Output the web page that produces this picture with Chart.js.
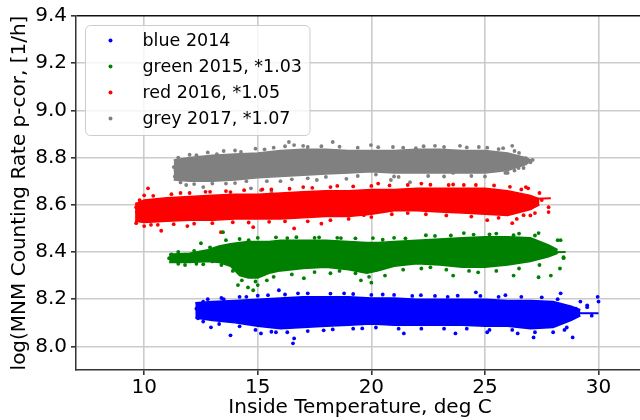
<!DOCTYPE html>
<html><head><meta charset="utf-8">
<script src="https://cdn.jsdelivr.net/npm/chart.js@4.4.1/dist/chart.umd.min.js"></script>
<style>
html,body{margin:0;padding:0;overflow:hidden;background:#fff;width:640px;height:420px}
#wrap{position:absolute;left:0;top:0;width:648px;height:420px}
</style>
</head><body><div id="wrap"><canvas id="c" width="648" height="420" style="width:648px;height:420px"></canvas></div>
<script>
// ---------- data ----------
const xTicks = [10, 15, 20, 25, 30];
const yTicks = [8.0, 8.2, 8.4, 8.6, 8.8, 9.0, 9.2, 9.4];
const xRange = [7, 32];
const yRange = [7.9, 9.4];
const seriesLabels = ["blue 2014", "green 2015, *1.03", "red 2016, *1.05", "grey 2017, *1.07"];
const seriesColors = ["#0000ff", "#008000", "#ff0000", "#808080"];

// dense core of each cloud: temperature, lower and upper edge
const blueX    = [12.25, 13, 14, 15, 16, 17, 18, 19, 20, 21, 22, 23, 24, 25, 26, 27, 28, 28.8, 29.2];
const blueLow  = [8.12, 8.11, 8.10, 8.085, 8.075, 8.08, 8.085, 8.09, 8.095, 8.09, 8.09, 8.09, 8.09, 8.085, 8.085, 8.075, 8.08, 8.11, 8.13];
const blueHigh = [8.185, 8.19, 8.195, 8.20, 8.205, 8.21, 8.21, 8.21, 8.205, 8.205, 8.20, 8.20, 8.20, 8.20, 8.195, 8.195, 8.19, 8.17, 8.155];

const greenX    = [11.1, 12, 12.8, 13.3, 13.8, 14.2, 14.6, 15, 15.5, 16, 17, 18, 19, 19.8, 20.3, 21, 22, 23, 24, 25, 26, 27, 27.8, 28.2];
const greenLow  = [8.355, 8.355, 8.36, 8.355, 8.34, 8.30, 8.29, 8.29, 8.31, 8.32, 8.33, 8.335, 8.325, 8.31, 8.32, 8.34, 8.35, 8.345, 8.335, 8.335, 8.345, 8.36, 8.38, 8.395];
const greenHigh = [8.39, 8.395, 8.41, 8.425, 8.435, 8.44, 8.445, 8.445, 8.445, 8.45, 8.45, 8.45, 8.445, 8.44, 8.44, 8.445, 8.45, 8.455, 8.46, 8.465, 8.465, 8.46, 8.43, 8.41];

const redX    = [9.6, 10, 11, 12, 13, 14, 15, 16, 17, 18, 19, 20, 21, 22, 23, 24, 25, 26, 27, 27.4];
const redLow  = [8.53, 8.525, 8.53, 8.535, 8.535, 8.54, 8.54, 8.54, 8.545, 8.55, 8.55, 8.56, 8.575, 8.575, 8.57, 8.565, 8.56, 8.555, 8.58, 8.60];
const redHigh = [8.605, 8.62, 8.63, 8.635, 8.64, 8.645, 8.645, 8.65, 8.655, 8.66, 8.66, 8.665, 8.665, 8.67, 8.67, 8.67, 8.67, 8.66, 8.64, 8.625];

const greyX    = [11.3, 12, 13, 14, 15, 16, 17, 18, 19, 20, 21, 22, 23, 24, 25, 26, 26.8, 27.0];
const greyLow  = [8.705, 8.70, 8.70, 8.705, 8.715, 8.72, 8.725, 8.73, 8.735, 8.74, 8.735, 8.735, 8.735, 8.735, 8.735, 8.745, 8.77, 8.785];
const greyHigh = [8.79, 8.80, 8.81, 8.815, 8.82, 8.83, 8.835, 8.835, 8.83, 8.83, 8.83, 8.835, 8.835, 8.83, 8.83, 8.82, 8.80, 8.79];

// scattered points around each core (outliers and fringe)
const blueDots = [[12.3,8.16],[12.37,8.119],[12.6,8.19],[12.94,8.081],[13.5,8.20],[13.8,8.047],[14.5,8.21],[15.14,8.055],[15.45,8.217],[15.8,8.06],[15.93,8.238],[16.55,8.013],[16.6,8.034],[16.77,8.225],[17.9,8.068],[18.8,8.225],[19.6,8.076],[20.5,8.22],[21.43,8.055],[22.18,8.217],[23.36,8.21],[23.7,8.055],[24.6,8.229],[25.1,8.06],[25.9,8.217],[26.44,8.055],[27.14,8.038],[28.33,8.225],[28.77,8.123],[28.86,8.038],[29.0,8.16],[29.2,8.19],[29.5,8.174],[29.5,8.166],[29.7,8.13],[29.96,8.21],[30.0,8.19],[28.5,8.07],
  [12.8,8.20],[13.4,8.205],[14.2,8.21],[15.0,8.215],[16.2,8.22],[17.2,8.225],[18.2,8.224],[19.2,8.222],[20.0,8.218],[21.0,8.218],[21.8,8.214],[22.8,8.214],[23.8,8.215],[24.8,8.214],[25.6,8.21],[26.6,8.21],[27.5,8.208],[28.2,8.2],
  [12.6,8.105],[13.3,8.095],[14.2,8.085],[14.9,8.07],[15.6,8.062],[16.3,8.06],[17.2,8.065],[18.3,8.072],[19.2,8.075],[20.2,8.08],[21.2,8.075],[22.2,8.075],[23.2,8.075],[24.2,8.075],[25.2,8.07],[26.2,8.07],[27.2,8.06],[28.0,8.06],[28.6,8.08]];
const greenDots = [[11.1,8.374],[11.2,8.39],[11.5,8.35],[12.5,8.437],[12.3,8.35],[13.47,8.484],[13.0,8.36],[14.13,8.26],[14.57,8.25],[14.6,8.45],[14.8,8.238],[15.0,8.26],[15.4,8.28],[16.3,8.459],[17.03,8.289],[17.5,8.46],[18.66,8.459],[18.2,8.31],[19.54,8.28],[20.0,8.27],[20.07,8.459],[21.0,8.46],[22.2,8.33],[22.4,8.471],[23.6,8.30],[24.07,8.48],[24.7,8.314],[25.2,8.475],[26.26,8.471],[26.26,8.30],[27.36,8.48],[27.36,8.293],[27.9,8.30],[28.2,8.45],[28.33,8.45],[28.3,8.33],[28.46,8.374],[28.46,8.378],[27.6,8.42],
  [11.5,8.40],[12.2,8.405],[12.9,8.42],[13.6,8.45],[14.2,8.455],[15.0,8.46],[15.8,8.462],[16.7,8.463],[17.7,8.462],[18.5,8.46],[19.3,8.458],[20.5,8.452],[21.5,8.458],[22.8,8.468],[23.5,8.47],[24.5,8.474],[25.5,8.478],[26.5,8.478],[27.2,8.47],
  [11.8,8.345],[12.6,8.348],[13.4,8.345],[13.9,8.32],[14.3,8.28],[14.9,8.275],[15.7,8.295],[16.5,8.305],[17.5,8.315],[18.6,8.32],[19.3,8.31],[19.9,8.295],[20.6,8.30],[21.4,8.325],[22.6,8.335],[23.3,8.325],[24.3,8.32],[25.5,8.32],[26.5,8.33],[27.4,8.345]];
const redDots = [[9.65,8.59],[9.65,8.522],[9.8,8.62],[10.0,8.64],[10.17,8.67],[10.3,8.515],[10.75,8.49],[11.6,8.65],[11.9,8.51],[12.7,8.655],[13.38,8.484],[13.8,8.654],[14.8,8.505],[15.2,8.665],[16.6,8.50],[17.0,8.675],[17.8,8.52],[18.5,8.68],[19.67,8.556],[20.3,8.69],[21.6,8.684],[21.6,8.565],[22.2,8.69],[23.4,8.684],[24.07,8.684],[25.1,8.535],[26.2,8.522],[26.7,8.556],[26.8,8.675],[26.9,8.67],[27.0,8.586],[27.2,8.565],[27.5,8.62],[27.8,8.569],[27.8,8.59],[27.4,8.65],
  [10.4,8.638],[11.2,8.645],[12.0,8.65],[12.9,8.655],[13.6,8.658],[14.4,8.662],[15.6,8.665],[16.4,8.668],[17.4,8.672],[18.2,8.675],[19.2,8.678],[20.0,8.68],[20.8,8.682],[22.6,8.685],[23.6,8.686],[24.6,8.684],[25.4,8.682],[26.1,8.676],[26.6,8.665],
  [10.0,8.51],[10.6,8.515],[11.3,8.518],[12.2,8.52],[13.0,8.522],[13.9,8.526],[14.6,8.525],[15.5,8.528],[16.2,8.53],[17.2,8.53],[18.2,8.535],[19.0,8.54],[20.0,8.548],[20.9,8.56],[22.4,8.56],[23.3,8.555],[24.4,8.55],[25.6,8.545],[26.4,8.54],[27.0,8.555]];
const greyDots = [[11.3,8.76],[11.35,8.72],[11.5,8.80],[11.85,8.684],[12.3,8.81],[12.6,8.675],[13.2,8.815],[13.6,8.69],[14.26,8.824],[14.7,8.67],[15.14,8.662],[15.6,8.654],[15.3,8.835],[16.37,8.866],[16.6,8.853],[16.0,8.70],[17.2,8.845],[17.6,8.705],[18.3,8.866],[18.9,8.71],[19.98,8.853],[20.86,8.705],[20.95,8.845],[21.2,8.718],[21.7,8.696],[21.96,8.84],[22.8,8.85],[23.6,8.735],[23.9,8.85],[24.73,8.845],[25.56,8.747],[26.2,8.85],[26.0,8.735],[26.48,8.756],[26.7,8.756],[26.8,8.798],[27.0,8.78],[27.1,8.79],[26.5,8.82],[25.8,8.84],
  [12.0,8.812],[12.8,8.822],[13.5,8.828],[14.0,8.83],[14.9,8.838],[15.7,8.842],[16.2,8.848],[17.0,8.85],[17.8,8.848],[18.6,8.846],[19.4,8.842],[20.3,8.844],[21.4,8.842],[22.3,8.848],[23.2,8.845],[24.2,8.843],[25.1,8.842],[25.6,8.836],[26.3,8.828],
  [11.6,8.695],[12.2,8.688],[13.0,8.69],[14.0,8.692],[14.5,8.70],[15.4,8.70],[16.5,8.708],[17.2,8.712],[18.0,8.718],[19.4,8.722],[20.2,8.728],[21.0,8.72],[22.5,8.722],[23.2,8.72],[24.4,8.722],[25.0,8.72],[25.9,8.735],[26.3,8.745]];

// fitted lines: [start, end]
const blueFit  = [[12.3, 8.145], [30.0, 8.14]];
const greenFit = [[11.1, 8.37], [28.55, 8.40]];
const redFit   = [[9.6, 8.57], [27.9, 8.628]];
const greyFit  = [[11.3, 8.745], [27.15, 8.79]];

// ---------- build datasets ----------
const toPts = (xs, ys) => xs.map((x, i) => ({x: x, y: ys[i]}));
const pairPts = arr => arr.map(p => ({x: p[0], y: p[1]}));
const groups = [
  {x: blueX,  lo: blueLow,  hi: blueHigh,  dots: blueDots,  fit: blueFit},
  {x: greenX, lo: greenLow, hi: greenHigh, dots: greenDots, fit: greenFit},
  {x: redX,   lo: redLow,   hi: redHigh,   dots: redDots,   fit: redFit},
  {x: greyX,  lo: greyLow,  hi: greyHigh,  dots: greyDots,  fit: greyFit}
];
const datasets = [];
groups.forEach((g, i) => {
  const col = seriesColors[i];
  datasets.push({type: 'line', label: '', data: toPts(g.x, g.lo), borderColor: col, borderWidth: 1.5,
    pointRadius: 0, fill: false, tension: 0});
  datasets.push({type: 'line', label: '', data: toPts(g.x, g.hi), borderColor: col, borderWidth: 1.5,
    pointRadius: 0, fill: '-1', backgroundColor: col, tension: 0});
  datasets.push({type: 'scatter', label: seriesLabels[i], inLegend: true, data: pairPts(g.dots),
    pointRadius: 1.9, pointBorderWidth: 0, backgroundColor: col, borderColor: col});
});
groups.forEach((g, i) => {
  datasets.push({type: 'line', label: '', data: pairPts(g.fit), borderColor: seriesColors[i],
    borderWidth: 2, pointRadius: 0, fill: false, tension: 0});
});

// ---------- legend drawn in matplotlib style ----------
const legendBox = {
  id: 'legendBox',
  afterDatasetsDraw(chart) {
    const ctx = chart.ctx, a = chart.chartArea;
    ctx.save();
    ctx.font = '17.5px "DejaVu Sans"';
    const items = chart.data.datasets.filter(d => d.inLegend);
    const maxW = Math.max(...items.map(d => ctx.measureText(d.label).width));
    const x0 = a.left + 9.5, y0 = a.top + 9.5, rowH = 26;
    const w = 57 + maxW + 8, h = items.length * rowH + 6, r = 5;
    ctx.beginPath();
    ctx.moveTo(x0 + r, y0);
    ctx.lineTo(x0 + w - r, y0); ctx.arcTo(x0 + w, y0, x0 + w, y0 + r, r);
    ctx.lineTo(x0 + w, y0 + h - r); ctx.arcTo(x0 + w, y0 + h, x0 + w - r, y0 + h, r);
    ctx.lineTo(x0 + r, y0 + h); ctx.arcTo(x0, y0 + h, x0, y0 + h - r, r);
    ctx.lineTo(x0, y0 + r); ctx.arcTo(x0, y0, x0 + r, y0, r);
    ctx.closePath();
    ctx.fillStyle = 'rgba(255,255,255,0.8)'; ctx.fill();
    ctx.strokeStyle = '#cccccc'; ctx.lineWidth = 1; ctx.stroke();
    items.forEach((d, i) => {
      const cy = y0 + 15 + i * rowH;
      ctx.beginPath(); ctx.arc(x0 + 25, cy, 2, 0, Math.PI * 2);
      ctx.fillStyle = d.backgroundColor; ctx.fill();
      ctx.fillStyle = '#000'; ctx.textBaseline = 'middle'; ctx.textAlign = 'left';
      ctx.fillText(d.label, x0 + 57, cy + 1);
    });
    ctx.restore();
  }
};

const tickFont = {family: 'DejaVu Sans', size: 20};
new Chart(document.getElementById('c'), {
  type: 'scatter',
  data: {datasets: datasets},
  plugins: [legendBox],
  options: {
    responsive: false, animation: false, devicePixelRatio: 1,
    layout: {padding: {top: 16, right: 4, left: 0, bottom: 0}},
    plugins: {legend: {display: false}, tooltip: {enabled: false}},
    scales: {
      x: {
        type: 'linear', min: xRange[0], max: xRange[1],
        afterBuildTicks: s => { s.ticks = xTicks.map(v => ({value: v})); },
        afterFit: s => { s.height = 50; },
        ticks: {font: tickFont, color: '#000', padding: 1, callback: v => String(v)},
        grid: {color: '#cbcbcb', lineWidth: 1.6, tickColor: '#333', tickLength: 5},
        border: {color: '#333', width: 1.5},
        title: {display: true, text: 'Inside Temperature, deg C', font: tickFont, color: '#000', padding: {top: 0, bottom: 0}}
      },
      y: {
        type: 'linear', min: yRange[0], max: yRange[1],
        afterBuildTicks: s => { s.ticks = yTicks.map(v => ({value: v})); },
        afterFit: s => { s.width = 76; },
        ticks: {font: tickFont, color: '#000', padding: 4, callback: v => Number(v).toFixed(1)},
        grid: {color: c => (c.tick && c.tick.value === yRange[1]) ? '#111' : '#cbcbcb', lineWidth: 1.6, tickColor: '#333', tickLength: 5},
        border: {color: '#333', width: 1.5},
        title: {display: true, text: 'log(MNM Counting Rate p-cor, [1/h]', font: tickFont, color: '#000', padding: {top: 8, bottom: 0}}
      }
    }
  }
});
</script>
</body></html>
